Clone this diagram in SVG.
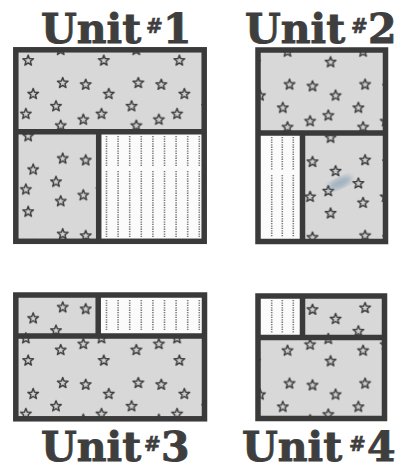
<svg xmlns="http://www.w3.org/2000/svg" xmlns:xlink="http://www.w3.org/1999/xlink" width="401" height="466" viewBox="0 0 401 466">
<style>
.t{font-family:"DejaVu Serif","Liberation Serif",serif;font-weight:bold;font-size:41px;fill:#3e3e3e;stroke:#3e3e3e;stroke-width:0.9}
.h{font-size:20px;stroke-width:0.6}
.b{fill:none;stroke:#3a3a3a;stroke-width:5.5}
.d{stroke:#3a3a3a;stroke-width:5.5}
.s{stroke:#7a7a7a;stroke-width:1.6;stroke-dasharray:1.3 1.1}
.w{fill:#fbfbfb}
.st{fill:#cfcfcf;stroke:#3c3c3c;stroke-width:1.4;stroke-linejoin:round}
</style>
<defs>
<path id="star" d="M0,-5.6 L1.38,-1.9 L5.33,-1.73 L2.24,0.73 L3.29,4.53 L0,2.35 L-3.29,4.53 L-2.24,0.73 L-5.33,-1.73 L-1.38,-1.9 Z"/>
<g id="tile">
<rect width="75.6" height="75.6" fill="#d8d8d8"/>
<use xlink:href="#star" class="st" x="58.8" y="64.2"/>
<use xlink:href="#star" class="st" x="17.7" y="11"/>
<use xlink:href="#star" class="st" x="40.7" y="12.7"/>
<use xlink:href="#star" class="st" x="63.8" y="22"/>
<use xlink:href="#star" class="st" x="11" y="34.3"/>
<use xlink:href="#star" class="st" x="56.5" y="42"/>
<use xlink:href="#star" class="st" x="38.3" y="47.7"/>
<use xlink:href="#star" class="st" x="15.7" y="53.7"/>
</g>
<pattern id="p1" patternUnits="userSpaceOnUse" x="45" y="72" width="75.6" height="75.6"><use xlink:href="#tile"/></pattern>
<pattern id="p2" patternUnits="userSpaceOnUse" x="45" y="73.6" width="75.6" height="75.6"><use xlink:href="#tile"/></pattern>
<pattern id="p3" patternUnits="userSpaceOnUse" x="45" y="69.6" width="75.6" height="75.6"><use xlink:href="#tile"/></pattern>
<pattern id="p4" patternUnits="userSpaceOnUse" x="45" y="70.2" width="75.6" height="75.6"><use xlink:href="#tile"/></pattern>
<filter id="blur"><feGaussianBlur stdDeviation="2.5"/></filter>
</defs>
<rect width="401" height="466" fill="#ffffff"/>

<g id="unit1">
<rect x="15.8" y="49.8" width="188.4" height="191.5" fill="url(#p1)"/>
<rect class="w" x="98.7" y="131.8" width="105.5" height="109.5"/>
<g class="s">
<path d="M106.5,136V166M106.5,171V237M118.1,136V166M118.1,171V237M129.7,136V166M129.7,171V237M141.3,136V166M141.3,171V237M152.9,136V166M152.9,171V237M164.5,136V166M164.5,171V237M176.1,136V166M176.1,171V237M187.7,136V166M187.7,171V237M199.3,136V166M199.3,171V237"/>
</g>
<rect class="b" x="15.8" y="49.8" width="188.4" height="191.5"/>
<path class="d" d="M15.8,131.8H204.2M98.7,131.8V241.3"/>
<text class="t" x="41" y="43">Unit<tspan class="h" x="146" y="33">#</tspan><tspan x="163" y="43">1</tspan></text>
</g>

<g id="unit2">
<rect x="258" y="50" width="127.5" height="191.5" fill="url(#p2)"/>
<rect class="w" x="258" y="133" width="44.5" height="108.5"/>
<path class="s" d="M271.7,137V170M271.7,175V237M282.3,137V170M282.3,175V237M293.3,137V170M293.3,175V237"/>
<ellipse cx="340" cy="183" rx="13" ry="5" fill="#5f86a3" opacity="0.45" transform="rotate(-25 340 183)" filter="url(#blur)"/>
<rect class="b" x="258" y="50" width="127.5" height="191.5"/>
<path class="d" d="M258,133H385.5M302.5,133V241.5"/>
<text class="t" x="245" y="43">Unit<tspan class="h" x="351" y="33">#</tspan><tspan x="368" y="43">2</tspan></text>
</g>

<g id="unit3">
<rect x="15.8" y="295" width="188.7" height="123.8" fill="url(#p3)"/>
<rect class="w" x="98.2" y="295" width="106.3" height="41"/>
<path class="s" d="M106.5,300V331M118.1,300V331M129.7,300V331M141.3,300V331M152.9,300V331M164.5,300V331M176.1,300V331M187.7,300V331M199.3,300V331"/>
<rect class="b" x="15.8" y="295" width="188.7" height="123.8"/>
<path class="d" d="M15.8,336H204.5M98.2,295V336"/>
<text class="t" x="41" y="461">Unit<tspan class="h" x="144" y="451">#</tspan><tspan x="161" y="461">3</tspan></text>
</g>

<g id="unit4">
<rect x="258" y="296" width="126.5" height="122.5" fill="url(#p4)"/>
<rect class="w" x="258" y="296" width="44.5" height="41.5"/>
<path class="s" d="M271.7,300V333M282.3,300V333M293.3,300V333"/>
<rect class="b" x="258" y="296" width="126.5" height="122.5"/>
<path class="d" d="M258,337.5H384.5M302.5,296V337.5"/>
<text class="t" x="242" y="461">Unit<tspan class="h" x="349" y="451">#</tspan><tspan x="367" y="461">4</tspan></text>
</g>
</svg>
